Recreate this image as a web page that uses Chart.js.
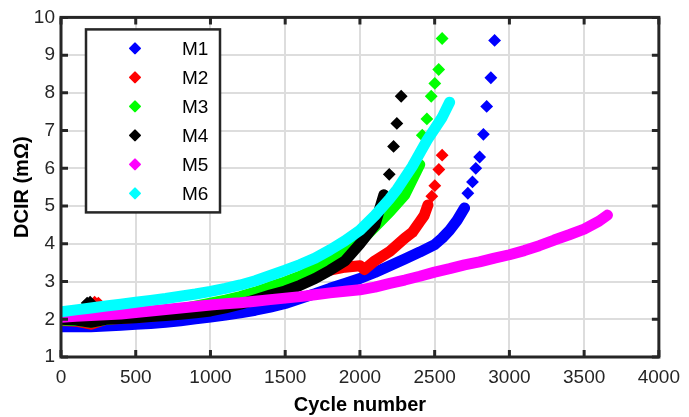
<!DOCTYPE html>
<html>
<head>
<meta charset="utf-8">
<script src="https://cdn.jsdelivr.net/npm/chart.js@4.4.1/dist/chart.umd.min.js"></script>
<style>
  html, body { margin: 0; padding: 0; background: #fff; }
  #wrap { width: 689px; height: 417px; }
</style>
</head>
<body>
<div id="wrap"><canvas id="dcirChart" width="689" height="417"></canvas></div>
<script>
// series names and colours
const seriesNames = ['M1', 'M2', 'M3', 'M4', 'M5', 'M6'];
const seriesColors = ['#0000ff', '#ff0000', '#00ff00', '#000000', '#ff00ff', '#00ffff'];

// dense part of each curve (cycle, DCIR in mOhm)
const m1Cycles = [0, 100, 200, 300, 400, 500, 600, 700, 800, 900, 1000, 1100, 1200, 1300, 1400, 1500, 1600, 1700, 1800, 1900, 2000, 2100, 2200, 2300, 2400, 2500, 2550, 2600, 2650, 2700];
const m1Dcir = [1.80, 1.80, 1.80, 1.82, 1.84, 1.87, 1.89, 1.92, 1.96, 2.01, 2.06, 2.11, 2.17, 2.24, 2.32, 2.42, 2.55, 2.68, 2.82, 2.95, 3.08, 3.24, 3.42, 3.60, 3.78, 3.98, 4.15, 4.36, 4.62, 4.95];

const m2Cycles = [0, 100, 200, 300, 400, 500, 600, 700, 800, 900, 1000, 1100, 1200, 1300, 1400, 1500, 1600, 1700, 1800, 1900, 2000, 2030, 2100, 2200, 2300, 2350, 2400, 2430, 2455];
const m2Dcir = [1.97, 1.95, 1.87, 2.00, 2.02, 2.05, 2.08, 2.12, 2.17, 2.23, 2.30, 2.38, 2.46, 2.56, 2.68, 2.82, 3.00, 3.20, 3.30, 3.38, 3.42, 3.32, 3.55, 3.80, 4.15, 4.30, 4.58, 4.75, 5.03];

const m3Cycles = [0, 100, 200, 300, 400, 500, 600, 700, 800, 900, 1000, 1100, 1200, 1300, 1400, 1500, 1600, 1700, 1800, 1900, 2000, 2100, 2200, 2300, 2400];
const m3Dcir = [1.98, 1.97, 1.92, 2.00, 2.03, 2.08, 2.14, 2.20, 2.27, 2.35, 2.43, 2.51, 2.60, 2.72, 2.86, 2.99, 3.14, 3.34, 3.55, 3.78, 4.05, 4.45, 4.85, 5.30, 6.10];

const m4Cycles = [0, 100, 200, 300, 400, 500, 600, 700, 800, 900, 1000, 1100, 1200, 1300, 1400, 1500, 1600, 1700, 1800, 1900, 2000, 2100, 2130, 2160];
const m4Dcir = [2.00, 1.98, 1.92, 2.00, 2.02, 2.04, 2.07, 2.10, 2.13, 2.17, 2.22, 2.30, 2.40, 2.52, 2.64, 2.75, 2.90, 3.08, 3.30, 3.55, 4.00, 4.50, 4.90, 5.30];

const m5Cycles = [0, 100, 200, 300, 400, 500, 600, 700, 800, 900, 1000, 1100, 1200, 1300, 1400, 1500, 1600, 1700, 1800, 1900, 2000, 2100, 2200, 2300, 2400, 2500, 2600, 2700, 2800, 2900, 3000, 3100, 3200, 3300, 3400, 3500, 3600, 3656];
const m5Dcir = [2.05, 2.08, 2.10, 2.12, 2.14, 2.18, 2.22, 2.26, 2.30, 2.34, 2.38, 2.41, 2.44, 2.48, 2.52, 2.56, 2.60, 2.65, 2.70, 2.74, 2.78, 2.85, 2.95, 3.04, 3.14, 3.25, 3.34, 3.44, 3.52, 3.62, 3.71, 3.82, 3.95, 4.10, 4.24, 4.39, 4.60, 4.76];

const m6Cycles = [0, 100, 200, 300, 400, 500, 600, 700, 800, 900, 1000, 1100, 1200, 1300, 1400, 1500, 1600, 1700, 1800, 1900, 2000, 2100, 2200, 2250, 2300, 2350, 2400, 2450, 2500, 2550, 2600];
const m6Dcir = [2.20, 2.25, 2.30, 2.35, 2.40, 2.45, 2.50, 2.55, 2.61, 2.67, 2.74, 2.82, 2.91, 3.02, 3.16, 3.30, 3.45, 3.62, 3.84, 4.08, 4.36, 4.75, 5.20, 5.45, 5.75, 6.05, 6.40, 6.75, 7.05, 7.35, 7.75];

// separate points (end of life and a few outliers)
const m1TailCycles = [2722, 2753, 2775, 2801, 2826, 2848, 2876, 2901];
const m1TailDcir = [5.34, 5.64, 6.00, 6.30, 6.90, 7.64, 8.40, 9.39];
const m2TailCycles = [225, 250, 2481, 2501, 2528, 2550];
const m2TailDcir = [2.45, 2.43, 5.26, 5.54, 5.97, 6.35];
const m3TailCycles = [2417, 2448, 2477, 2501, 2527, 2550];
const m3TailDcir = [6.88, 7.31, 7.91, 8.25, 8.62, 9.44];
const m4TailCycles = [175, 195, 2196, 2225, 2247, 2276];
const m4TailDcir = [2.43, 2.45, 5.84, 6.58, 7.19, 7.91];
const m5TailCycles = [];
const m5TailDcir = [];
const m6TailCycles = [];
const m6TailDcir = [];

// axes
const xTicks = [0, 500, 1000, 1500, 2000, 2500, 3000, 3500, 4000];
const yTicks = [1, 2, 3, 4, 5, 6, 7, 8, 9, 10];

const denseCycles = [m1Cycles, m2Cycles, m3Cycles, m4Cycles, m5Cycles, m6Cycles];
const denseDcir = [m1Dcir, m2Dcir, m3Dcir, m4Dcir, m5Dcir, m6Dcir];
const tailCycles = [m1TailCycles, m2TailCycles, m3TailCycles, m4TailCycles, m5TailCycles, m6TailCycles];
const tailDcir = [m1TailDcir, m2TailDcir, m3TailDcir, m4TailDcir, m5TailDcir, m6TailDcir];

const FONT = "'Liberation Sans', Arial, sans-serif";
const AXIS = '#262626';

const toPoints = (xs, ys) => xs.map((x, i) => ({ x: x, y: ys[i] }));

const datasets = [];
seriesNames.forEach((name, i) => {
    // later series drawn on top, like the original plot order
    datasets.push({
        label: name,
        data: toPoints(denseCycles[i], denseDcir[i]),
        showLine: true,
        borderColor: seriesColors[i],
        backgroundColor: seriesColors[i],
        borderWidth: 11,
        borderCapStyle: 'round',
        borderJoinStyle: 'round',
        pointStyle: 'rectRot',
        pointRadius: 5,
        pointBorderWidth: 0,
        order: 6 - i
    });
    datasets.push({
        label: name + ' tail',
        data: toPoints(tailCycles[i], tailDcir[i]),
        showLine: false,
        backgroundColor: seriesColors[i],
        borderColor: seriesColors[i],
        pointStyle: 'rectRot',
        pointRadius: 5,
        pointBorderWidth: 2,
        order: 6 - i
    });
});

// box round the plot with inward ticks on all four sides
const framePlugin = {
    id: 'frame',
    afterDraw(chart) {
        const { ctx, chartArea: a, scales } = chart;
        ctx.save();
        ctx.strokeStyle = AXIS;
        ctx.lineWidth = 3;
        ctx.beginPath();
        xTicks.forEach(v => {
            const px = scales.x.getPixelForValue(v);
            ctx.moveTo(px, a.bottom); ctx.lineTo(px, a.bottom - 7);
            ctx.moveTo(px, a.top); ctx.lineTo(px, a.top + 7);
        });
        yTicks.forEach(v => {
            const py = scales.y.getPixelForValue(v);
            ctx.moveTo(a.left, py); ctx.lineTo(a.left + 7, py);
            ctx.moveTo(a.right, py); ctx.lineTo(a.right - 7, py);
        });
        ctx.stroke();
        ctx.strokeRect(a.left, a.top, a.right - a.left, a.bottom - a.top);
        ctx.restore();
    }
};

// legend box in the upper left of the plot
const legendPlugin = {
    id: 'boxLegend',
    afterDraw(chart) {
        const { ctx, chartArea: a } = chart;
        const x0 = a.left + 25, y0 = a.top + 12, w = 134, h = 183;
        ctx.save();
        ctx.fillStyle = '#fff';
        ctx.fillRect(x0, y0, w, h);
        ctx.strokeStyle = AXIS;
        ctx.lineWidth = 2.5;
        ctx.strokeRect(x0, y0, w, h);
        ctx.font = '19px ' + FONT;
        ctx.textBaseline = 'middle';
        seriesNames.forEach((name, i) => {
            const cy = y0 + 19 + i * 29;
            const cx = x0 + 49;
            ctx.fillStyle = seriesColors[i];
            ctx.strokeStyle = seriesColors[i];
            ctx.lineWidth = 2;
            ctx.lineJoin = 'round';
            ctx.beginPath();
            ctx.moveTo(cx, cy - 5); ctx.lineTo(cx + 5, cy);
            ctx.lineTo(cx, cy + 5); ctx.lineTo(cx - 5, cy);
            ctx.closePath();
            ctx.fill();
            ctx.stroke();
            ctx.fillStyle = '#000';
            ctx.fillText(name, x0 + 96, cy + 1);
        });
        ctx.restore();
    }
};

new Chart(document.getElementById('dcirChart').getContext('2d'), {
    type: 'scatter',
    data: { datasets: datasets },
    options: {
        responsive: false,
        animation: false,
        layout: { padding: { top: 17, right: 24, left: 0, bottom: 0 } },
        plugins: {
            legend: { display: false },
            tooltip: { enabled: false }
        },
        scales: {
            x: {
                type: 'linear',
                min: 0,
                max: 4000,
                afterBuildTicks: scale => { scale.ticks = xTicks.map(v => ({ value: v })); },
                afterFit: scale => { scale.height = 60; },
                grid: { color: '#dddddd', lineWidth: 2, drawTicks: false },
                border: { display: false },
                ticks: {
                    padding: 9,
                    color: AXIS,
                    font: { family: FONT, size: 19 },
                    callback: v => String(v)
                },
                title: {
                    display: true,
                    text: 'Cycle number',
                    color: '#000',
                    padding: { top: 0, bottom: 0 },
                    font: { family: FONT, size: 20, weight: 'bold' }
                }
            },
            y: {
                type: 'linear',
                min: 1,
                max: 10,
                afterBuildTicks: scale => { scale.ticks = yTicks.map(v => ({ value: v })); },
                afterFit: scale => { scale.width = 61; },
                grid: { color: '#dddddd', lineWidth: 2, drawTicks: false },
                border: { display: false },
                ticks: {
                    padding: 6,
                    color: AXIS,
                    font: { family: FONT, size: 19 },
                    callback: v => String(v)
                },
                title: {
                    display: true,
                    text: 'DCIR (mΩ)',
                    color: '#000',
                    padding: { top: 10, bottom: 0 },
                    font: { family: FONT, size: 20, weight: 'bold' }
                }
            }
        }
    },
    plugins: [framePlugin, legendPlugin]
});
</script>
</body>
</html>
